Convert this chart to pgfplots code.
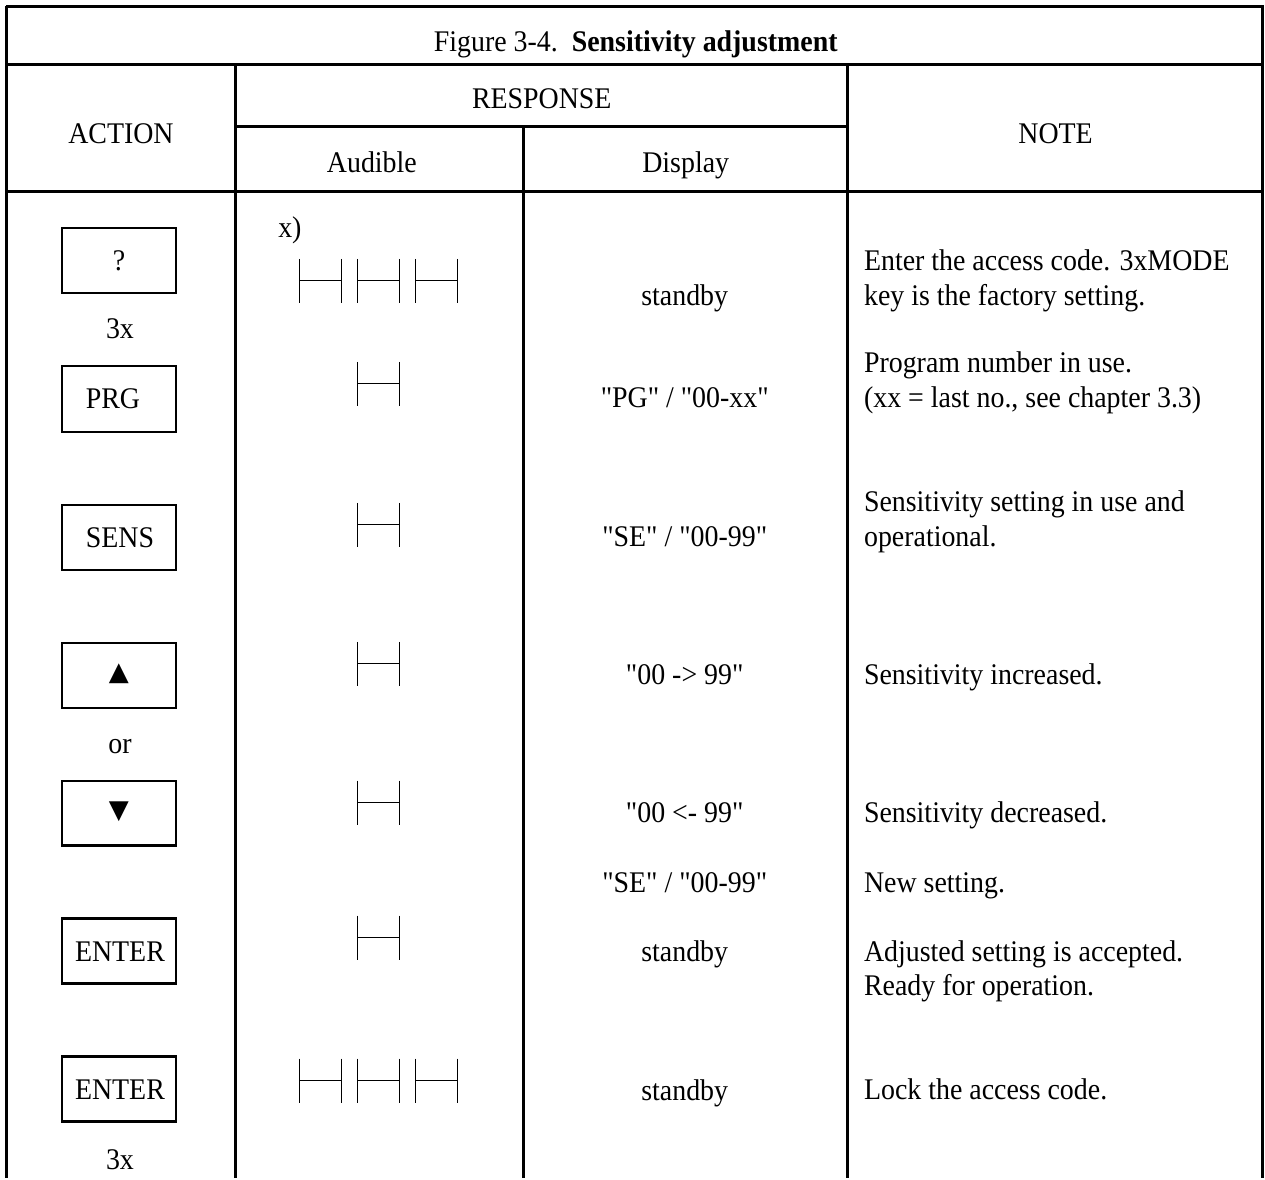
\documentclass[border=0pt]{standalone}
\usepackage{fontspec}
\setmainfont{Liberation Serif}[FakeStretch=0.93, Ligatures=TeXOff]
\newfontfamily\symfont{DejaVu Sans}
\usepackage{pgfplots}
\pgfplotsset{compat=1.18}
\newcommand\tf{\fontsize{15pt}{17.5pt}\selectfont}
\newcommand\beep[2]{\draw[line width=0.55pt] (axis cs:#1,#2) +(0,11pt) -- +(0,-11pt) +(0,0) -- +(21pt,0) +(21pt,11pt) -- +(21pt,-11pt);}
\newcommand\keybox[2]{\draw[line width=1.2pt] (axis cs:62,#1) rectangle (axis cs:176,#2);}
\newcommand\ctext[3]{\node[anchor=base,inner sep=0pt,font=\tf] at (axis cs:#1,#2) {#3};}
\newcommand\ltext[3]{\node[anchor=base west,inner sep=0pt,font=\tf] at (axis cs:#1,#2) {#3};}
\begin{document}
\begin{tikzpicture}
\begin{axis}[scale only axis, width=632.5pt, height=589pt,
  xmin=0, xmax=1265, ymin=0, ymax=1178, y dir=reverse,
  hide axis, clip=false]
\path (axis cs:0,0) rectangle (axis cs:1265,1178);
% table rules
\addplot[black, line width=1.5pt, forget plot] coordinates {(6,6) (1264,6)};
\addplot[black, line width=1.5pt, forget plot] coordinates {(7,65) (1263,65)};
\addplot[black, line width=1.5pt, forget plot] coordinates {(236,127) (848,127)};
\addplot[black, line width=1.5pt, forget plot] coordinates {(7,192) (1263,192)};
\addplot[black, line width=1.5pt, forget plot] coordinates {(7,6) (7,1178)};
\addplot[black, line width=1.5pt, forget plot] coordinates {(1263,6) (1263,1178)};
\addplot[black, line width=1.5pt, forget plot] coordinates {(236,65) (236,1178)};
\addplot[black, line width=1.5pt, forget plot] coordinates {(848,65) (848,1178)};
\addplot[black, line width=1.5pt, forget plot] coordinates {(524,127) (524,1178)};
% headers
\ctext{636}{52}{Figure 3-4.\ \ \textbf{Sensitivity adjustment}}
\ctext{542}{109}{RESPONSE}
\ctext{121}{144}{ACTION}
\ctext{1056}{144}{NOTE}
\ctext{372}{173}{Audible}
\ctext{686}{173}{Display}
% key boxes
\keybox{228}{293}
\keybox{366}{432}
\keybox{505}{570}
\keybox{643}{708}
\keybox{781}{846}
\keybox{919}{984}
\keybox{1057}{1122}
\ctext{119}{271}{?}
\ctext{120}{339}{3x}
\ctext{113}{409}{PRG}
\ctext{120}{548}{SENS}
\node[anchor=center,inner sep=0pt,font=\symfont\fontsize{13pt}{15pt}\selectfont] at (axis cs:119,674) {▲};
\ctext{120}{754}{or}
\node[anchor=center,inner sep=0pt,font=\symfont\fontsize{13pt}{15pt}\selectfont] at (axis cs:119,812) {▼};
\ctext{120}{962}{ENTER}
\ctext{120}{1100}{ENTER}
\ctext{120}{1170}{3x}
% audible
\ltext{278}{238}{x)}
\beep{300}{281}\beep{358}{281}\beep{416}{281}
\beep{358}{384}
\beep{358}{525}
\beep{358}{664}
\beep{358}{803}
\beep{358}{938}
\beep{300}{1081}\beep{358}{1081}\beep{416}{1081}
% display
\ctext{685}{306}{standby}
\ctext{685}{408}{"PG" / "00-xx"}
\ctext{685}{547}{"SE" / "00-99"}
\ctext{685}{685}{"00 -> 99"}
\ctext{685}{823}{"00 <- 99"}
\ctext{685}{893}{"SE" / "00-99"}
\ctext{685}{962}{standby}
\ctext{685}{1101}{standby}
% notes
\ltext{864}{271}{Enter the access code. 3xMODE}
\ltext{864}{306}{key is the factory setting.}
\ltext{864}{373}{Program number in use.}
\ltext{864}{408}{(xx = last no., see chapter 3.3)}
\ltext{864}{512}{Sensitivity setting in use and}
\ltext{864}{547}{operational.}
\ltext{864}{685}{Sensitivity increased.}
\ltext{864}{823}{Sensitivity decreased.}
\ltext{864}{893}{New setting.}
\ltext{864}{962}{Adjusted setting is accepted.}
\ltext{864}{996}{Ready for operation.}
\ltext{864}{1100}{Lock the access code.}
\end{axis}
\end{tikzpicture}
\end{document}
